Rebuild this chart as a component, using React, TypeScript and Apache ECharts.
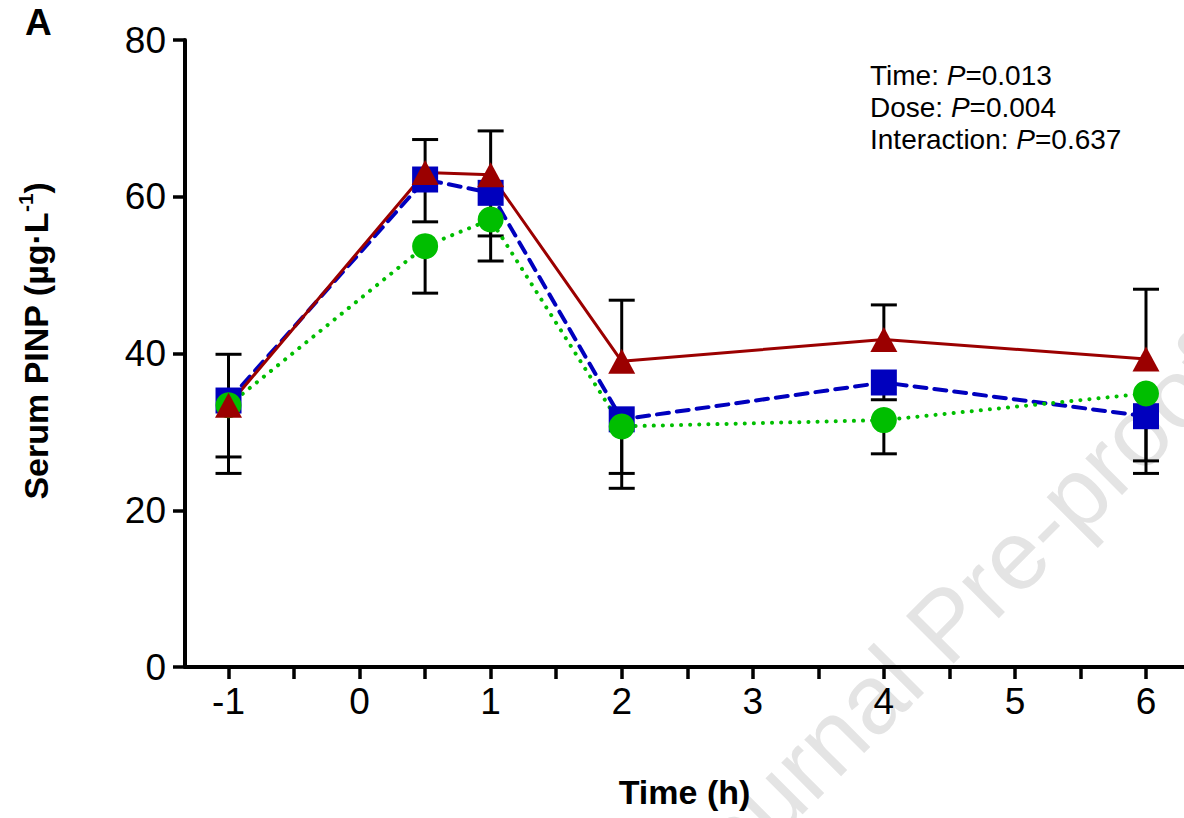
import React, { useEffect, useRef } from "react";
import * as echarts from "echarts";

// ---- data ----
const timePoints = [-1, 0.5, 1, 2, 4, 6];
const blueMean = [34.0, 62.2, 60.5, 31.6, 36.3, 32.0];
const greenMean = [33.4, 53.7, 57.1, 30.7, 31.5, 34.9];
const redMean = [33.4, 63.1, 62.8, 39.0, 41.8, 39.3];
// error bar ends (blue and green shown downward, red shown upward)
const blueLower = [26.8, 56.8, 55.0, 24.7, 34.1, 26.3];
const greenLower = [24.7, 47.7, 51.8, 22.8, 27.2, 24.7];
const redUpper = [39.9, 67.3, 68.4, 46.8, 46.2, 48.2];

const xTickValues = [-1, -0.5, 0, 0.5, 1, 1.5, 2, 2.5, 3, 3.5, 4, 4.5, 5, 5.5, 6];
const xLabelValues = [-1, 0, 1, 2, 3, 4, 5, 6];
const statLines = [
  ["Time: ", "0.013"],
  ["Dose: ", "0.004"],
  ["Interaction: ", "0.637"],
];

const FONT = "'Liberation Sans', Arial, Helvetica, sans-serif";
const BLUE = "#0000BE";
const GREEN = "#00BE00";
const RED = "#9B0000";

function errSeries(name: string, means: number[], ends: number[]) {
  return {
    name,
    type: "custom",
    clip: false,
    silent: true,
    data: timePoints.map((t, i) => [t, means[i], ends[i]]),
    encode: { x: 0, y: [1, 2] },
    renderItem: (params: any, api: any) => {
      const x = api.value(0);
      const p0 = api.coord([x, api.value(1)]);
      const p1 = api.coord([x, api.value(2)]);
      const st = { stroke: "#000", lineWidth: 3 };
      return {
        type: "group",
        children: [
          { type: "line", shape: { x1: p0[0], y1: p0[1], x2: p1[0], y2: p1[1] }, style: st },
          { type: "line", shape: { x1: p1[0] - 13, y1: p1[1], x2: p1[0] + 13, y2: p1[1] }, style: st },
        ],
      };
    },
  };
}

function lineSeries(name: string, means: number[], color: string, symbol: string, size: any, lineType: any, width: number) {
  return {
    name,
    type: "line",
    data: timePoints.map((t, i) => [t, means[i]]),
    symbol,
    symbolSize: size,
    showAllSymbol: true,
    silent: true,
    emphasis: { disabled: true },
    itemStyle: { color, opacity: 1 },
    lineStyle: { color, width, type: lineType, cap: lineType === "solid" ? "butt" : "round" },
  };
}

export default function App() {
  const ref = useRef<HTMLDivElement>(null);
  useEffect(() => {
    if (!ref.current) return;
    const chart = echarts.init(ref.current, null, { renderer: "svg" });
    const option: any = {
      animation: false,
      backgroundColor: "#fff",
      grid: { left: 185, right: 0, top: 40, bottom: 151, containLabel: false, outerBoundsMode: "none" },
      xAxis: {
        type: "value",
        min: -1.332,
        max: 6.29,
        name: "Time (h)",
        nameLocation: "middle",
        nameGap: 108,
        nameTextStyle: { fontFamily: FONT, fontSize: 34, fontWeight: "bold", color: "#000" },
        axisLine: { show: true, onZero: false, lineStyle: { color: "#000", width: 4 } },
        axisTick: { show: true, length: 12, lineStyle: { color: "#000", width: 3.5 }, customValues: xTickValues },
        axisLabel: { show: true, fontFamily: FONT, fontSize: 37, color: "#000", margin: 16, customValues: xLabelValues },
        splitLine: { show: false },
        minorTick: { show: false },
      },
      yAxis: {
        type: "value",
        min: 0,
        max: 80,
        interval: 20,
        axisLine: { show: true, onZero: false, lineStyle: { color: "#000", width: 4 } },
        axisTick: { show: true, length: 12, lineStyle: { color: "#000", width: 3.5 } },
        axisLabel: { fontFamily: FONT, fontSize: 37, color: "#000", margin: 19 },
        splitLine: { show: false },
      },
      graphic: [
        {
          type: "text",
          z: -10,
          x: 945,
          y: 624,
          rotation: (45 * Math.PI) / 180,
          silent: true,
          style: {
            text: "Journal Pre-proof",
            fontFamily: FONT,
            fontSize: 98,
            fill: "#e4e4e4",
            align: "center",
            verticalAlign: "middle",
          },
        },
        {
          type: "text",
          x: 25,
          y: 4,
          style: { text: "A", fontFamily: FONT, fontSize: 37, fontWeight: "bold", fill: "#000" },
        },
        {
          type: "text",
          x: 36,
          y: 341,
          rotation: Math.PI / 2,
          style: {
            text: "{b|Serum PINP (µg·L}{s|-1}{b|)}",
            align: "center",
            verticalAlign: "middle",
            rich: {
              b: { fontFamily: FONT, fontSize: 34, fontWeight: "bold", fill: "#000", lineHeight: 42 },
              s: { fontFamily: FONT, fontSize: 21, fontWeight: "bold", fill: "#000", lineHeight: 21, verticalAlign: "top" },
            },
          },
        },
        {
          type: "text",
          x: 870,
          y: 59,
          style: {
            text: statLines.map((l) => `{n|${l[0]}}{i|P}{n|=${l[1]}}`).join("\n"),
            rich: {
              n: { fontFamily: FONT, fontSize: 28, fill: "#000", lineHeight: 32 },
              i: { fontFamily: FONT, fontSize: 28, fontStyle: "italic", fill: "#000", lineHeight: 32 },
            },
          },
        },
      ],
      series: [
        errSeries("blueErr", blueMean, blueLower),
        lineSeries("Blue", blueMean, BLUE, "rect", 26, [12, 8], 4),
        errSeries("greenErr", greenMean, greenLower),
        lineSeries("Green", greenMean, GREEN, "circle", 26, [0.1, 9], 4),
        errSeries("redErr", redMean, redUpper),
        lineSeries("Red", redMean, RED, "triangle", [27, 25], "solid", 3),
      ],
    };
    chart.setOption(option);
    return () => chart.dispose();
  }, []);
  return (
    <div
      ref={ref}
      style={{ position: "fixed", left: 0, top: 0, width: 1184, height: 818, background: "#fff" }}
    />
  );
}
